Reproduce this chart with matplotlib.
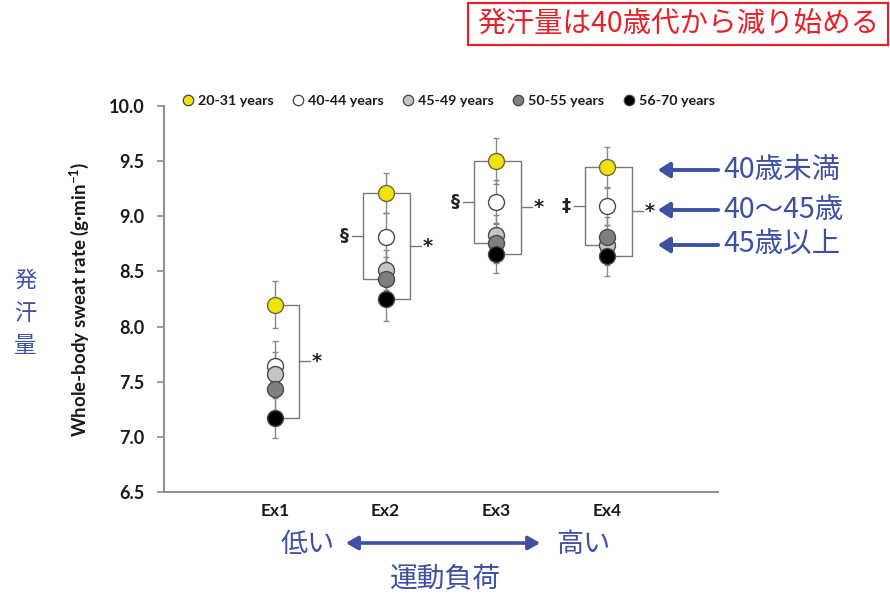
import matplotlib
matplotlib.use("Agg")
import matplotlib.pyplot as plt
from matplotlib.patches import Rectangle, FancyArrowPatch
from matplotlib.lines import Line2D

plt.rcParams['font.family'] = ['Lato', 'DejaVu Sans']
plt.rcParams['mathtext.fontset'] = 'custom'
plt.rcParams['mathtext.rm'] = 'Lato'
plt.rcParams['mathtext.bf'] = 'Lato:bold'

# ---- data ----
exercises = ['Ex1', 'Ex2', 'Ex3', 'Ex4']
age_groups = ['20-31 years', '40-44 years', '45-49 years', '50-55 years', '56-70 years']
group_colors = ['#F2E20C', '#FFFFFF', '#C4C4C4', '#7F7F7F', '#000000']

sweat_20_31 = [8.20, 9.21, 9.50, 9.45]
sweat_40_44 = [7.64, 8.81, 9.13, 9.09]
sweat_45_49 = [7.57, 8.51, 8.83, 8.74]
sweat_50_55 = [7.43, 8.43, 8.76, 8.81]
sweat_56_70 = [7.17, 8.25, 8.66, 8.64]

se_20_31 = [0.21, 0.18, 0.21, 0.18]
se_40_44 = [0.23, 0.22, 0.20, 0.17]
se_45_49 = [0.20, 0.18, 0.18, 0.18]
se_50_55 = [0.20, 0.20, 0.18, 0.18]
se_56_70 = [0.18, 0.20, 0.17, 0.18]

left_marks = ['', '§', '§', '‡']
right_marks = ['*', '*', '*', '*']

yticks = [6.5, 7.0, 7.5, 8.0, 8.5, 9.0, 9.5, 10.0]

series = [sweat_20_31, sweat_40_44, sweat_45_49, sweat_50_55, sweat_56_70]
errors = [se_20_31, se_40_44, se_45_49, se_50_55, se_56_70]

W, H = 890, 595
fig = plt.figure(figsize=(W / 100, H / 100), dpi=100)
ax = fig.add_axes([164 / W, 1 - 492 / H, (718 - 164) / W, (492 - 106) / H])

xpos = list(range(1, len(exercises) + 1))

# error bars underneath the markers
for vals, errs in zip(series, errors):
    ax.errorbar(xpos, vals, yerr=errs, fmt='none', ecolor='#8a8a8a',
                elinewidth=1.0, capsize=2.5, capthick=1.0, zorder=2)

# markers, later groups on top
for i, (vals, col) in enumerate(zip(series, group_colors)):
    edge = '#6b6b3a' if i == 0 else '#4a4a4a'
    ax.plot(xpos, vals, 'o', ms=11.5, mfc=col, mec=edge, mew=1.0,
            ls='none', zorder=3 + i, label=age_groups[i])

# significance brackets
bc = '#7a7a7a'
for j, x in enumerate(xpos):
    top = sweat_20_31[j]
    # right bracket: youngest vs oldest
    bot = sweat_56_70[j]
    xr = x + 0.22
    ax.plot([x, xr, xr, x], [top, top, bot, bot], color=bc, lw=1.0, zorder=1)
    mid = (top + bot) / 2
    ax.plot([xr, xr + 0.10], [mid, mid], color=bc, lw=1.0, zorder=1)
    ax.text(xr + 0.16, mid, right_marks[j], ha='center', va='center',
            fontsize=14, fontweight='bold', color='#222222',
            family='DejaVu Sans')
    # left bracket: youngest vs 45-55 years
    if left_marks[j]:
        bot = min(sweat_45_49[j], sweat_50_55[j])
        xl = x - 0.20
        ax.plot([x, xl, xl, x], [top, top, bot, bot], color=bc, lw=1.0, zorder=1)
        mid = (top + bot) / 2
        ax.plot([xl, xl - 0.10], [mid, mid], color=bc, lw=1.0, zorder=1)
        ax.text(xl - 0.17, mid, left_marks[j], ha='center', va='center',
                fontsize=13, fontweight='bold', color='#222222',
                family='DejaVu Sans')

ax.set_xlim(0, 5)
ax.set_ylim(6.5, 10.0)
ax.set_xticks(xpos)
ax.set_xticklabels(exercises)
ax.set_yticks(yticks)
ax.set_yticklabels([f'{t:.1f}' for t in yticks])
for s in ['top', 'right']:
    ax.spines[s].set_visible(False)
for s in ['left', 'bottom']:
    ax.spines[s].set_color('#8c8c8c')
    ax.spines[s].set_linewidth(1.4)
ax.tick_params(axis='x', length=0, pad=8, labelsize=12.5, labelcolor='#1a1a1a')
ax.tick_params(axis='y', length=5, width=1.2, color='#8c8c8c', pad=9,
               labelsize=13, labelcolor='#1a1a1a')
for lab in ax.get_xticklabels() + ax.get_yticklabels():
    lab.set_fontweight('bold')
ax.set_ylabel(r'Whole-body sweat rate (g·min$^{\mathbf{-1}}$)', fontsize=13.5,
              fontweight='bold', color='#1a1a1a', labelpad=13)

# legend across the top
handles = [Line2D([], [], marker='o', ls='none', ms=7.5, mfc=c,
                  mec='#444444', mew=0.9) for c in group_colors]
leg = ax.legend(handles, age_groups, loc='lower center', ncol=5, frameon=False,
                bbox_to_anchor=(0.513, 0.975), handletextpad=0.25,
                columnspacing=1.25, handlelength=0.9, borderaxespad=0.2,
                prop={'weight': 'bold', 'size': 10.3})
for t in leg.get_texts():
    t.set_color('#1a1a1a')

# Japanese annotations
jp = ['Noto Sans CJK JP', 'DejaVu Sans']
blue = '#3E50A2'
red = '#E5222A'


def fx(px):
    return px / W


def fy(py):
    return 1 - py / H


# headline box
fig.patches.append(Rectangle((fx(468), fy(45)), fx(888) - fx(468), fy(3) - fy(45),
                             transform=fig.transFigure, fill=False,
                             edgecolor=red, lw=1.6))
fig.text(fx(678), fy(24), '発汗量は40歳代から減り始める', ha='center', va='center',
         fontsize=20.5, color=red, family=jp)

# age labels with arrows
labels_right = ['40歳未満', '40～45歳', '45歳以上']
rows = [170, 210, 245]
for txt, py in zip(labels_right, rows):
    fig.patches.append(FancyArrowPatch((fx(721), fy(py)), (fx(655), fy(py)),
                                       transform=fig.transFigure,
                                       arrowstyle='-|>,head_length=7,head_width=4.5',
                                       color=blue, lw=2.8, mutation_scale=1))
    fig.text(fx(723), fy(py), txt, ha='left', va='center', fontsize=20.5,
             color=blue, family=jp)

# vertical y-axis caption
for k, ch in enumerate('発汗量'):
    fig.text(fx(25), fy(280 + 33 * k), ch, ha='center', va='center',
             fontsize=16, color=blue, family=jp)

# exercise load caption
fig.patches.append(FancyArrowPatch((fx(343), fy(543)), (fx(543), fy(543)),
                                   transform=fig.transFigure,
                                   arrowstyle='<|-|>,head_length=7,head_width=4',
                                   color=blue, lw=2.6, mutation_scale=1))
fig.text(fx(308), fy(544), '低い', ha='center', va='center', fontsize=19.5,
         color=blue, family=jp)
fig.text(fx(583), fy(544), '高い', ha='center', va='center', fontsize=19.5,
         color=blue, family=jp)
fig.text(fx(445), fy(578), '運動負荷', ha='center', va='center', fontsize=20,
         color=blue, family=jp)

fig.savefig('out.png', dpi=100, facecolor='white')
